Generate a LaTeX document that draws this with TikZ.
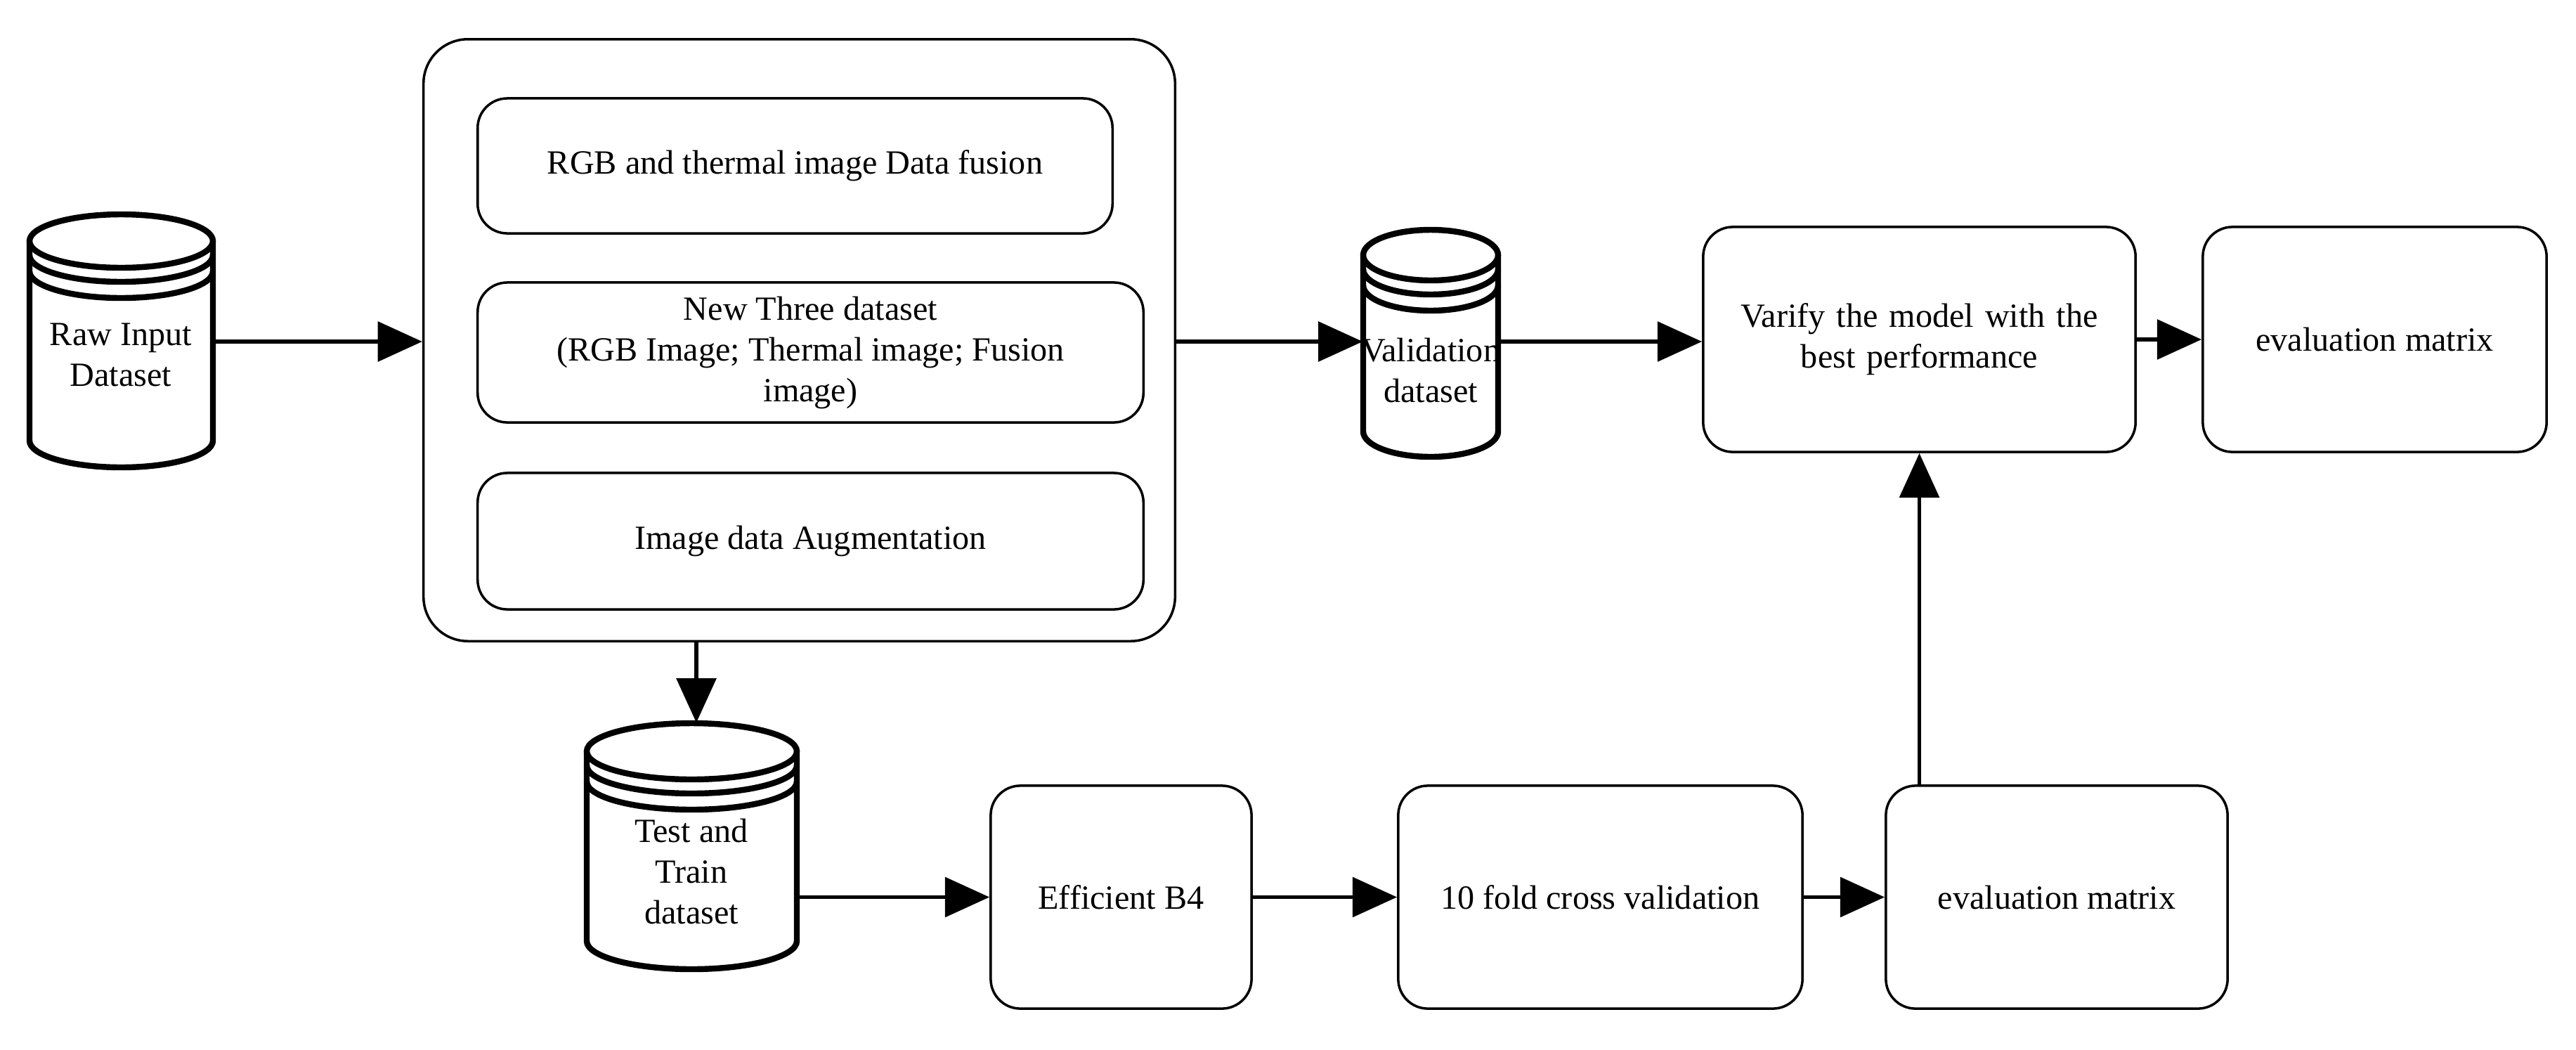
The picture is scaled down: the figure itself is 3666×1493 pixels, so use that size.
\documentclass[tikz,border=0pt]{standalone}
\usepackage{fontspec}
\setmainfont{Liberation Serif}
\usepackage{tikz}
\usetikzlibrary{positioning,arrows.meta}

% database cylinder: name, left, top, right, bottom, ellipse half-height
\newcommand{\dbcyl}[6]{%
  \pgfmathsetmacro{\cylcx}{(#2+#4)/2}\pgfmathsetmacro{\cylrx}{(#4-#2)/2}
  \draw[cyl] (#2,#3+#6) -- (#2,#5-#6) arc[start angle=180,end angle=360,x radius=\cylrx*0.01cm,y radius=#6*0.01cm] -- (#4,#3+#6);
  \draw[cyl] (\cylcx,#3+#6) ellipse[x radius=\cylrx*0.01cm,y radius=#6*0.01cm];
  \draw[cyl] (#2,#3+#6+20) arc[start angle=180,end angle=360,x radius=\cylrx*0.01cm,y radius=#6*0.01cm];
  \draw[cyl] (#2,#3+#6+43) arc[start angle=180,end angle=360,x radius=\cylrx*0.01cm,y radius=#6*0.01cm];
  \node[inner sep=0, minimum width={(#4-#2)*0.01cm}, minimum height={(#5-#3)*0.01cm}] (#1) at (\cylcx,{(#3+#5)/2}) {};
}

\begin{document}
\begin{tikzpicture}[x=0.01cm, y=-0.01cm,
    every node/.style={align=center, font=\fontsize{13.7}{16.5}\selectfont},
    cyl/.style={line width=2.4pt},
    stage/.style={draw, rounded corners=12pt, line width=1pt, inner sep=0},
    arrow/.style={line width=1.6pt, -{Triangle[length=18pt, width=16pt]}}
  ]
  \useasboundingbox (0,0) rectangle (3666,1493);

  % containers
  \node[stage, minimum width=10.69cm, minimum height=8.56cm, rounded corners=18pt] (prep) at (1137.5,484) {};
  \node[stage, minimum width=9.03cm, minimum height=1.92cm] (fusion) at (1131.5,236) {RGB and thermal image Data fusion};
  \node[stage, minimum width=9.47cm, minimum height=1.99cm] (newset) at (1153.5,501.5) {New Three dataset\\(RGB Image; Thermal image; Fusion\\image)};
  \node[stage, minimum width=9.47cm, minimum height=1.94cm] (augment) at (1153.5,770) {Image data Augmentation};

  % databases
  \dbcyl{raw}{42}{305}{303}{665}{38}
  \node at (172,505) {Raw Input\\Dataset};
  \dbcyl{valid}{1940}{327}{2132}{650}{36}
  \node at (2036,527) {Validation\\dataset};
  \dbcyl{testtrain}{835}{1029}{1134}{1379}{40}
  \node at (984,1240) {Test and\\Train\\dataset};

  % processing steps
  \node[stage, minimum width=6.15cm, minimum height=3.2cm, text width=5.6cm] (verify) at (2731.5,483) {Varify the model with the\\best performance};
  \node[stage, minimum width=4.89cm, minimum height=3.2cm] (evaltop) at (3379.5,483) {evaluation matrix};
  \node[stage, minimum width=3.71cm, minimum height=3.17cm] (effnet) at (1595.5,1276.5) {Efficient B4};
  \node[stage, minimum width=5.75cm, minimum height=3.17cm] (kfold) at (2277.5,1276.5) {10 fold cross validation};
  \node[stage, minimum width=4.86cm, minimum height=3.17cm] (evalbot) at (2927,1276.5) {evaluation matrix};

  % connectors
  \coordinate (mainrow) at (0,486);
  \coordinate (dropx) at (991,0);
  \draw[arrow] (raw.east |- mainrow) -- (prep.west |- mainrow);
  \draw[arrow] (prep.east |- mainrow) -- (valid.west |- mainrow);
  \draw[arrow] (valid.east |- mainrow) -- (verify.west |- mainrow);
  \draw[arrow] (verify) -- (evaltop);
  \draw[arrow] (prep.south -| dropx) -- (testtrain.north -| dropx);
  \draw[arrow] (testtrain.east |- effnet) -- (effnet);
  \draw[arrow] (effnet) -- (kfold);
  \draw[arrow] (kfold) -- (evalbot);
  \draw[arrow] (evalbot.north -| verify) -- (verify.south);
\end{tikzpicture}
\end{document}
